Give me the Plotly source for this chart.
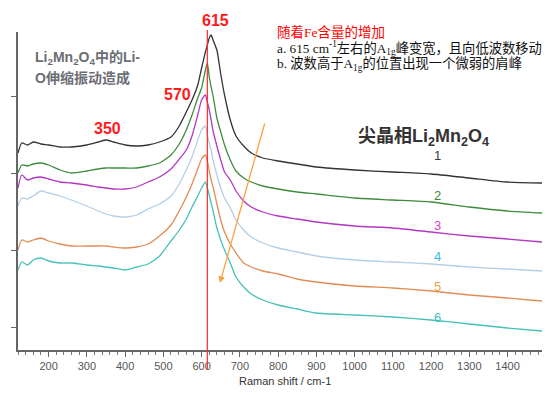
import plotly.graph_objects as go

# ---------------- data ----------------
wavenumber = [120, 130, 145, 160, 180, 200, 230, 260, 300, 330,
              350, 370, 400, 430, 460, 490, 520, 540, 560, 575,
              590, 600, 610, 615, 620, 625, 630, 640, 650, 660,
              675, 690, 710, 730, 760, 800, 850, 900, 1000, 1100,
              1200, 1300, 1400, 1490]

s1 = [197, 207, 205, 208, 206, 205, 203, 203, 205, 208,
      210, 208, 205, 204, 205, 208, 213, 223, 238, 250,
      265, 282, 298, 305, 312, 315, 310, 300, 276, 255,
      230, 214, 204, 197, 192, 189, 186, 183, 180, 178,
      176, 172, 168, 167]
s2 = [177, 185, 184, 186, 187, 185, 180, 177, 179, 181,
      182, 182, 182, 182, 184, 187, 195, 205, 220, 235,
      252, 262, 280, 287, 273, 263, 254, 232, 218, 205,
      190, 179, 172, 168, 164, 161, 158, 156, 152, 150,
      148, 143, 139, 137]
s3 = [162, 175, 170, 172, 173, 171, 168, 167, 165, 163,
      162, 161, 161, 163, 168, 173, 181, 190, 200, 214,
      235, 250, 255, 248, 240, 230, 219, 204, 190, 178,
      170, 159, 149, 143, 138, 134, 131, 128, 124, 122,
      118, 114, 111, 108]
s4 = [144, 152, 151, 154, 159, 157, 154, 150, 144, 139,
      136, 134, 133, 135, 141, 146, 154, 165, 180, 193,
      210, 220, 224, 215, 207, 200, 190, 175, 162, 152,
      142, 130, 120, 113, 107, 102, 98, 94, 90, 88,
      86, 83, 81, 79]
s5 = [100, 110, 108, 110, 112, 109, 106, 104, 104, 104,
      104, 103, 102, 103, 106, 114, 125, 138, 153, 166,
      181, 191, 195, 189, 179, 170, 163, 146, 130, 118,
      106, 97, 87, 83, 79, 76, 71, 68, 64, 62,
      59, 55, 52, 49]
s6 = [80, 88, 85, 90, 92, 89, 87, 87, 85, 84,
      83, 82, 80, 83, 86, 94, 109, 119, 131, 143,
      154, 162, 168, 162, 155, 147, 139, 122, 110, 100,
      87, 73, 63, 56, 50, 45, 41, 37, 35, 33,
      30, 26, 22, 19]

series_values = [s1, s2, s3, s4, s5, s6]
series_names = ["1", "2", "3", "4", "5", "6"]
line_colors = ["#333333", "#3d8c3d", "#b436c4", "#b4cfe6", "#e38c55", "#45c2b8"]
label_colors = ["#3a3a3a", "#3a8a3a", "#e040c8", "#3cb8e0", "#e8a83a", "#3cc0c0"]
label_x = 1218
label_y = [195, 155, 125, 94, 64, 33]

x_ticks = [200, 300, 400, 500, 600, 700, 800, 900, 1000, 1100, 1200, 1300, 1400]
y_ticks = [23, 100, 177, 254]
peak_line = 615
arrow_from = (766, 228)
arrow_to = (648, 67)

SANS = "Liberation Sans, Arial, Noto Sans CJK SC"
SERIF = "Liberation Serif, Times New Roman, Noto Sans CJK SC"

fig = go.Figure()
for vals, name, col in zip(series_values, series_names, line_colors):
    fig.add_trace(go.Scatter(x=wavenumber, y=vals, mode="lines", name=name,
                             line=dict(color=col, width=1.3, shape="spline", smoothing=0.6),
                             showlegend=False, hoverinfo="skip"))

annotations = []
for name, lc, ly in zip(series_names, label_colors, label_y):
    annotations.append(dict(x=label_x, y=ly, xref="x", yref="y", text=name, showarrow=False,
                            font=dict(family=SANS, size=13, color=lc)))

# orange arrow
annotations.append(dict(x=arrow_to[0], y=arrow_to[1], ax=arrow_from[0], ay=arrow_from[1],
                        xref="x", yref="y", axref="x", ayref="y", text="", showarrow=True,
                        arrowhead=2, arrowsize=1, arrowwidth=1.3, arrowcolor="#ffa040"))

def px2paper(px, py):
    return (px - 18) / 524.0, (350 - py) / 318.0

def add_text(px, py, text, size, color, family=SANS, xanchor="center", yanchor="middle"):
    xp, yp = px2paper(px, py)
    annotations.append(dict(x=xp, y=yp, xref="paper", yref="paper", text=text, showarrow=False,
                            xanchor=xanchor, yanchor=yanchor,
                            font=dict(family=family, size=size, color=color)))

add_text(215, 20, "<b>615</b>", 16, "#ff1a1a")
add_text(177, 95, "<b>570</b>", 16, "#ff1a1a")
add_text(107, 128, "<b>350</b>", 16, "#ff1a1a")
add_text(33, 58, "<b>Li<sub>2</sub>Mn<sub>2</sub>O<sub>4</sub>中的Li-</b>", 14, "#6b6e74", xanchor="left")
add_text(33, 78, "<b>O伸缩振动造成</b>", 14, "#6b6e74", xanchor="left")
add_text(423, 137, "<b>尖晶相Li<sub>2</sub>Mn<sub>2</sub>O<sub>4</sub></b>", 18, "#333333")
add_text(275, 32, "随着Fe含量的增加", 13.5, "#ff0000", family=SERIF, xanchor="left")
add_text(275, 48, "a. 615 cm<sup>-1</sup>左右的A<sub>1g</sub>峰变宽，且向低波数移动", 13.3, "#111111",
         family=SERIF, xanchor="left")
add_text(275, 64, "b. 波数高于A<sub>1g</sub>的位置出现一个微弱的肩峰", 13.3, "#111111",
         family=SERIF, xanchor="left")
add_text(285, 381, "Raman shift / cm-1", 11, "#333333")

fig.add_shape(type="line", x0=peak_line, x1=peak_line, xref="x", yref="paper",
              y0=-0.063, y1=1.006, line=dict(color="#ff2a2a", width=1.2))

fig.update_layout(
    width=556, height=395,
    margin=dict(l=18, r=14, t=32, b=45),
    paper_bgcolor="white", plot_bgcolor="white",
    annotations=annotations,
    xaxis=dict(range=[120, 1490], tickvals=x_ticks, ticks="outside", ticklen=5,
               tickcolor="#666666", showline=True, linecolor="#666666", linewidth=1.5,
               showgrid=False, zeroline=False,
               tickfont=dict(family=SANS, size=11, color="#555555"),
               minor=dict(dtick=20, tick0=0, ticks="outside", ticklen=3, tickcolor="#777777")),
    yaxis=dict(range=[0, 318], tickvals=y_ticks, ticks="outside", ticklen=5,
               tickcolor="#666666", showline=True, linecolor="#666666", linewidth=1.5,
               showticklabels=False, showgrid=False, zeroline=False),
)

fig.write_html("out.html", config={"displayModeBar": False},
               post_script="document.body.style.margin='0';")
